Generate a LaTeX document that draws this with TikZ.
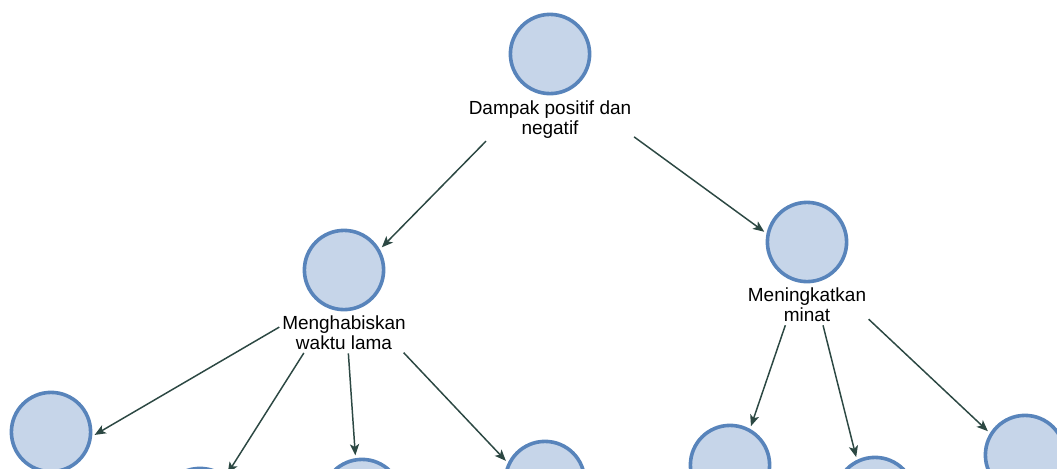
\documentclass[tikz,border=0pt]{standalone}
\usepackage{fontspec}
\setmainfont{Liberation Sans}
\usetikzlibrary{positioning,fit,arrows.meta}

\definecolor{bubblefill}{HTML}{C6D5E9}
\definecolor{bubbleline}{HTML}{5884BB}
\definecolor{edgecol}{HTML}{2C4843}

\begin{document}
\begin{tikzpicture}[x=0.025cm,y=-0.025cm,
		bubble/.style={circle,draw=bubbleline,fill=bubblefill,line width=0.09cm,minimum size=1.98cm,inner sep=0pt},
		caption/.style={align=center,font=\fontsize{13.5}{14.5}\selectfont,inner sep=0pt},
		grp/.style={inner sep=0pt},
		edge/.style={edgecol,line width=1.05pt,-{Stealth[length=0.28cm,width=0.23cm,inset=0.07cm]},shorten >=0.07cm,shorten <=0.07cm}]

		% frame of the screenshot (pixel coordinates, y downwards)
		\useasboundingbox (0,0) rectangle (1057,468);
		\clip (0,0) rectangle (1057,468);

		% root
		\node[bubble] (dampak) at (550,54) {};
		\node[caption,below=0.12cm of dampak] (dampak-lbl) {Dampak positif dan\\negatif};
		\node[grp,fit=(dampak)(dampak-lbl)] (dampak-grp) {};

		% second level
		\node[bubble] (habis) at (344,270) {};
		\node[caption,below=0.1cm of habis] (habis-lbl) {Menghabiskan\\waktu lama};
		\node[grp,fit=(habis)(habis-lbl)] (habis-grp) {};

		\node[bubble] (minat) at (807,242) {};
		\node[caption,below=0.1cm of minat] (minat-lbl) {Meningkatkan\\minat};
		\node[grp,fit=(minat)(minat-lbl)] (minat-grp) {};

		% leaves (cut off by the bottom edge)
		\node[bubble] (habis-a) at (51,432) {};
		\node[bubble] (habis-b) at (200,508) {};
		\node[bubble] (habis-c) at (362,499) {};
		\node[bubble] (habis-d) at (545,481) {};
		\node[bubble] (minat-a) at (730,465) {};
		\node[bubble] (minat-b) at (875,497) {};
		\node[bubble] (minat-c) at (1025,455) {};

		% edges, each one hits its circle at the given angle
		\draw[edge] (dampak-grp) -- (habis.30);
		\draw[edge] (dampak-grp) -- (minat.168);
		\foreach \t/\a in {a/-6,b/51,c/99,d/154}
			\draw[edge] (habis-grp) -- (habis-\t.\a);
		\foreach \t/\a in {a/61,b/116,c/148}
			\draw[edge] (minat-grp) -- (minat-\t.\a);
	\end{tikzpicture}
\end{document}
